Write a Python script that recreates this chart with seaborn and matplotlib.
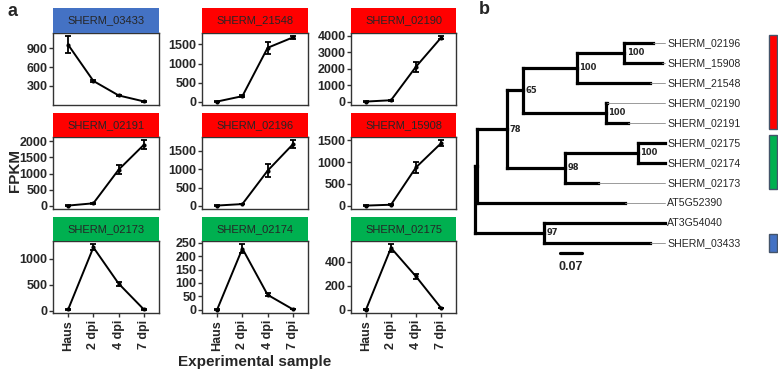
import numpy as np
import pandas as pd
import matplotlib
matplotlib.use("Agg")
import matplotlib.pyplot as plt
from matplotlib.patches import Rectangle
import seaborn as sns

# ---- panel a data (FPKM, mean and error) ----
samples = ["Haus", "2 dpi", "4 dpi", "7 dpi"]
genes = ["SHERM_03433", "SHERM_21548", "SHERM_02190",
         "SHERM_02191", "SHERM_02196", "SHERM_15908",
         "SHERM_02173", "SHERM_02174", "SHERM_02175"]
gene_group = ["down", "up", "up", "up", "up", "up", "peak", "peak", "peak"]

fpkm_03433 = [955, 380, 150, 55]
fpkm_21548 = [10, 150, 1410, 1680]
fpkm_02190 = [20, 100, 2130, 3880]
fpkm_02191 = [10, 80, 1120, 1890]
fpkm_02196 = [10, 50, 960, 1680]
fpkm_15908 = [5, 25, 880, 1430]
fpkm_02173 = [20, 1220, 520, 20]
fpkm_02174 = [1, 228, 56, 2]
fpkm_02175 = [3, 515, 278, 17]

err_03433 = [135, 20, 8, 5]
err_21548 = [5, 20, 160, 30]
err_02190 = [10, 20, 300, 90]
err_02191 = [5, 10, 130, 140]
err_02196 = [5, 10, 180, 110]
err_15908 = [3, 8, 130, 70]
err_02173 = [5, 60, 40, 5]
err_02174 = [0.5, 16, 6, 0.5]
err_02175 = [1, 30, 18, 2]

yticks_list = [[300, 600, 900], [0, 500, 1000, 1500], [0, 1000, 2000, 3000, 4000],
               [0, 500, 1000, 1500, 2000], [0, 500, 1000, 1500], [0, 500, 1000, 1500],
               [0, 500, 1000], [0, 50, 100, 150, 200, 250], [0, 200, 400]]

group_colors = {"up": "#FF0000", "peak": "#00B050", "down": "#4472C4"}

means = [fpkm_03433, fpkm_21548, fpkm_02190, fpkm_02191, fpkm_02196,
         fpkm_15908, fpkm_02173, fpkm_02174, fpkm_02175]
errs = [err_03433, err_21548, err_02190, err_02191, err_02196,
        err_15908, err_02173, err_02174, err_02175]

rows = []
for g, m, e in zip(genes, means, errs):
    for i, s in enumerate(samples):
        rows.append({"gene": g, "sample": s, "pos": i, "fpkm": m[i], "err": e[i]})
df = pd.DataFrame(rows)

# ---- panel b data (tree) ----
node_name = ["root", "inner", "n78", "n65", "n100a", "n100b", "SHERM_02196", "SHERM_15908",
             "SHERM_21548", "n100c", "SHERM_02190", "SHERM_02191", "n98", "n100d",
             "SHERM_02175", "SHERM_02174", "SHERM_02173", "AT5G52390", "n97",
             "AT3G54040", "SHERM_03433"]
node_parent = [-1, 0, 1, 2, 3, 4, 5, 5, 4, 3, 9, 9, 2, 12, 13, 13, 12, 1, 0, 18, 18]
branch_len = [0, 0.006, 0.095, 0.051, 0.172, 0.150, 0.092, 0.121, 0.232, 0.264, 0.003,
              0.070, 0.185, 0.232, 0.086, 0.086, 0.105, 0.471, 0.219, 0.385, 0.337]
bootstrap = {"n78": 78, "n65": 65, "n100a": 100, "n100b": 100, "n100c": 100,
             "n98": 98, "n100d": 100, "n97": 97}
bar_groups = [("up", ["SHERM_02196", "SHERM_02191"]),
              ("peak", ["SHERM_02175", "SHERM_02173"]),
              ("down", ["SHERM_03433", "SHERM_03433"])]

# ---- style ----
sns.set_style("ticks")
plt.rcParams["font.family"] = ["Liberation Sans", "DejaVu Sans"]

W, H = 778, 371
fig = plt.figure(figsize=(W / 100, H / 100), dpi=100)


def px_box(x0, y0, x1, y1):
    return [x0 / W, 1 - y1 / H, (x1 - x0) / W, (y1 - y0) / H]


col_x = [(53, 159), (202, 308), (351, 456)]
row_y = [(8, 33, 105), (113, 137, 209), (217, 241, 313)]

for k, gene in enumerate(genes):
    r, c = divmod(k, 3)
    x0, x1 = col_x[c]
    ys, ya, yb = row_y[r]
    ax = fig.add_axes(px_box(x0, ya, x1, yb))
    sub = df[df["gene"] == gene]
    ax.errorbar(sub["pos"], sub["fpkm"], yerr=sub["err"], fmt="none", ecolor="black",
                elinewidth=1.3, capsize=2.5, capthick=1.3, zorder=3)
    sns.lineplot(data=sub, x="pos", y="fpkm", ax=ax, color="black", lw=1.4,
                 marker="o", markersize=3, markeredgewidth=0, sort=False, zorder=4)
    ax.set_xlim(-0.6, 3.6)
    ax.margins(y=0.05)
    ax.set_yticks(yticks_list[k])
    ax.set_xticks(range(len(samples)))
    ax.set_xlabel("")
    ax.set_ylabel("")
    for sp in ax.spines.values():
        sp.set_color("#333333")
        sp.set_linewidth(1.0)
    ax.tick_params(axis="y", length=3, width=1, color="#333333", labelsize=9, pad=1)
    for lab in ax.get_yticklabels():
        lab.set_fontweight("bold")
    if r == 2:
        ax.set_xticklabels(samples, rotation=90, fontsize=9, fontweight="bold")
        ax.tick_params(axis="x", length=3, width=1, color="#333333", pad=2)
    else:
        ax.set_xticklabels([])
        ax.tick_params(axis="x", length=0)
    # strip
    sax = fig.add_axes(px_box(x0, ys, x1, ya))
    sax.set_facecolor(group_colors[gene_group[k]])
    sax.set_xticks([])
    sax.set_yticks([])
    for sp in sax.spines.values():
        sp.set_visible(False)
    sax.text(0.5, 0.5, gene, ha="center", va="center", fontsize=8, transform=sax.transAxes)

fig.text(255 / W, 1 - 362 / H, "Experimental sample", ha="center", va="center",
         fontsize=11, fontweight="bold")
fig.text(15 / W, 1 - 170 / H, "FPKM", ha="center", va="center", rotation=90,
         fontsize=11, fontweight="bold")
fig.text(12 / W, 1 - 11 / H, "a", ha="center", va="center", fontsize=13, fontweight="bold")
fig.text(484 / W, 1 - 9 / H, "b", ha="center", va="center", fontsize=13, fontweight="bold")

# ---- panel b: tree ----
n = len(node_name)
children = {i: [] for i in range(n)}
for i, p in enumerate(node_parent):
    if p >= 0:
        children[p].append(i)
node_x = [0.0] * n
for i in range(n):
    if node_parent[i] >= 0:
        node_x[i] = node_x[node_parent[i]] + branch_len[i]
tips = [i for i in range(n) if not children[i]]
node_y = [0.0] * n
for t, i in enumerate(tips):
    node_y[i] = t
for i in reversed(range(n)):
    if children[i]:
        node_y[i] = (node_y[children[i][0]] + node_y[children[i][-1]]) / 2
align_x = max(node_x[i] for i in tips)

scale = 0.00318  # branch units per pixel
tax = fig.add_axes(px_box(470, 0, 778, 371))
tax.set_xlim((470 - 475) * scale, (778 - 475) * scale)
tax.set_ylim((371 - 43) / 20, -43 / 20)
tax.axis("off")

blw = 2.3
for i in range(n):
    p = node_parent[i]
    if p >= 0:
        tax.plot([node_x[p], node_x[i]], [node_y[i], node_y[i]], color="black", lw=blw,
                 solid_capstyle="projecting")
    if children[i]:
        ys_ = [node_y[c] for c in children[i]]
        tax.plot([node_x[i], node_x[i]], [min(ys_), max(ys_)], color="black", lw=blw,
                 solid_capstyle="projecting")
for i in tips:
    if align_x - node_x[i] > 0.004:
        tax.plot([node_x[i], align_x], [node_y[i], node_y[i]], color="#8a8a8a", lw=0.6)
    tax.text(align_x + 0.008, node_y[i], node_name[i], ha="left", va="center", fontsize=7.6)
for i in range(n):
    if node_name[i] in bootstrap:
        tax.text(node_x[i] + 0.008, node_y[i], str(bootstrap[node_name[i]]), ha="left",
                 va="center", fontsize=6, fontweight="bold", family="DejaVu Sans")

# scale bar
tax.plot([0.27, 0.34], [10.5, 10.5], color="black", lw=blw)
tax.text(0.305, 11.2, "0.07", ha="center", va="center", fontsize=9, fontweight="bold")

# group bars
tip_index = {node_name[i]: node_y[i] for i in tips}
for grp, (first, last) in bar_groups:
    y0 = tip_index[first] - 0.42
    y1 = tip_index[last] + 0.3
    if first == last:
        y0 = tip_index[first] - 0.45
        y1 = tip_index[last] + 0.45
    tax.add_patch(Rectangle((0.935, y0), 0.026, y1 - y0, facecolor=group_colors[grp],
                            edgecolor="#44546A", lw=1.0, clip_on=False))

fig.savefig("out.png", dpi=100)
